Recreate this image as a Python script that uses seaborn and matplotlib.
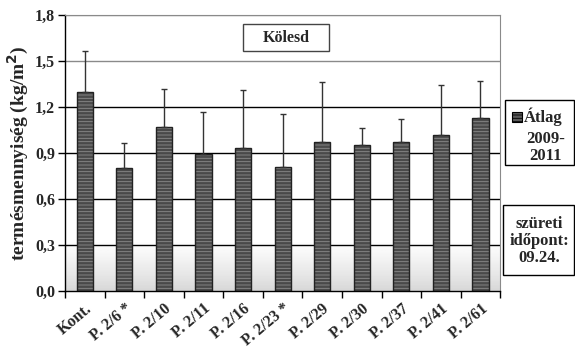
import numpy as np
import pandas as pd
import matplotlib
matplotlib.use("Agg")
import matplotlib.pyplot as plt
from matplotlib.patches import Rectangle
import seaborn as sns

# Average yield 2009-2011, Kölesd
categories = ["Kont.", "P. 2/6 *", "P. 2/10", "P. 2/11", "P. 2/16", "P. 2/23 *",
              "P. 2/29", "P. 2/30", "P. 2/37", "P. 2/41", "P. 2/61"]
yield_mean = [1.30, 0.80, 1.07, 0.89, 0.93, 0.81, 0.97, 0.95, 0.97, 1.02, 1.13]
yield_sd = [0.265, 0.165, 0.245, 0.28, 0.38, 0.345, 0.39, 0.115, 0.15, 0.325, 0.24]
y_ticks = [0.0, 0.3, 0.6, 0.9, 1.2, 1.5, 1.8]
y_tick_labels = ["0,0", "0,3", "0,6", "0,9", "1,2", "1,5", "1,8"]

sns.set_style("white")
plt.rcParams["font.family"] = ["Liberation Serif", "DejaVu Serif"]
plt.rcParams["font.weight"] = "bold"
plt.rcParams["hatch.linewidth"] = 0.6

df = pd.DataFrame({"kezeles": categories, "termes": yield_mean})

fig = plt.figure(figsize=(5.75, 3.54), dpi=100)
ax = fig.add_axes([0.113, 0.178, 0.757, 0.780])
fw, fh = 575.0, 354.0

# background shading near the bottom of the plot area
grad = np.ones((200, 1))
yy = np.linspace(1.8, 0.0, 200)
grad[:, 0] = np.where(yy > 0.32, 1.0, 0.84 + 0.16 * (yy / 0.32) ** 0.8)
ax.imshow(grad, extent=[-0.5, len(categories) - 0.5, 0, 1.8], aspect="auto",
          cmap="gray", vmin=0, vmax=1, zorder=0, interpolation="bilinear")

# grid lines
for v in y_ticks[1:]:
    col = "#8a8a8a" if v >= 1.5 else "black"
    ax.axhline(v, color=col, lw=1.0, zorder=1)

# hatched fill, then dark outline on top
sns.barplot(data=df, x="kezeles", y="termes", ax=ax, color="#4a4a4a",
            width=0.41, edgecolor="#8c8c8c", linewidth=0, hatch="-----",
            saturation=1, zorder=2)
sns.barplot(data=df, x="kezeles", y="termes", ax=ax, fill=False,
            width=0.41, edgecolor="#222222", linewidth=1.0, zorder=3)

xpos = np.arange(len(categories))
ax.errorbar(xpos, yield_mean, yerr=[np.zeros(len(yield_sd)), yield_sd],
            fmt="none", ecolor="#333333", elinewidth=1.0, capsize=2.0,
            capthick=1.0, zorder=4)

ax.set_xlim(-0.5, len(categories) - 0.5)
ax.set_ylim(0, 1.8)
ax.set_yticks(y_ticks)
ax.set_yticklabels(y_tick_labels, fontsize=11.5, fontweight="bold")
ax.set_xticks(xpos)
ax.set_xticklabels(categories, rotation=40, ha="right", rotation_mode="anchor",
                   fontsize=11.5, fontweight="bold")
ax.set_xticks(np.arange(-0.5, len(categories)), minor=True)
ax.tick_params(axis="x", which="major", length=0, pad=7)
ax.tick_params(axis="x", which="minor", length=5, width=1, color="black",
               direction="out", bottom=True)
ax.tick_params(axis="y", length=5, width=1, color="black", direction="out",
               left=True, pad=2)
ax.set_xlabel("")
ax.set_ylabel("termésmennyiség (kg/m$^\\mathbf{2}$)", fontsize=14,
              fontweight="bold", labelpad=3)

for side in ["left", "bottom"]:
    ax.spines[side].set_color("black")
    ax.spines[side].set_linewidth(1.0)
ax.spines["right"].set_color("#8a8a8a")
ax.spines["top"].set_color("#8a8a8a")
for s in ax.spines.values():
    s.set_zorder(5)

# site name box
fig.patches.append(Rectangle((243 / fw, 1 - 51 / fh), 86 / fw, 27 / fh,
                             transform=fig.transFigure, fc="white",
                             ec="#444444", lw=1.0, zorder=6))
fig.text(286 / fw, 1 - 38 / fh, "Kölesd", ha="center", va="center",
         fontsize=11.5, fontweight="bold", zorder=7)

# legend box
fig.patches.append(Rectangle((505 / fw, 1 - 165 / fh), 69 / fw, 65 / fh,
                             transform=fig.transFigure, fc="white", ec="black",
                             lw=1.0))
fig.patches.append(Rectangle((512 / fw, 1 - 122 / fh), 10 / fw, 10 / fh,
                             transform=fig.transFigure, fc="#5a5a5a",
                             ec="black", lw=0.8, hatch="-----"))
fig.text(524 / fw, 1 - 117 / fh, "Átlag", ha="left", va="center",
         fontsize=12, fontweight="bold")
fig.text(546 / fw, 1 - 147.5 / fh, "2009-\n2011", ha="center", va="center",
         fontsize=12, fontweight="bold", linespacing=1.05)

# harvest date box
fig.patches.append(Rectangle((503 / fw, 1 - 275 / fh), 71 / fw, 70 / fh,
                             transform=fig.transFigure, fc="white", ec="black",
                             lw=1.0))
fig.text(539 / fw, 1 - 241 / fh, "szüreti\nidőpont:\n09.24.", ha="center",
         va="center", fontsize=12, fontweight="bold", linespacing=1.05)

fig.savefig("out.png", dpi=100)
